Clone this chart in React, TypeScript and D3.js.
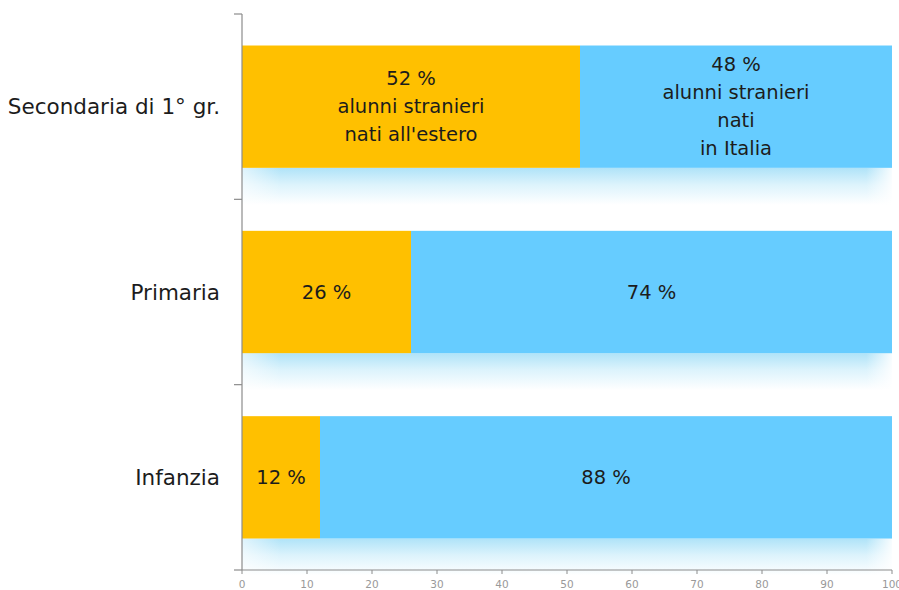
import * as React from "react";
import * as d3 from "d3";

const categories = ["Secondaria di 1° gr.", "Primaria", "Infanzia"];
const natiEstero = [52, 26, 12];
const natiItalia = [48, 74, 88];
const esteroLabels = [["52 %", "alunni stranieri", "nati all'estero"], ["26 %"], ["12 %"]];
const italiaLabels = [["48 %", "alunni stranieri", "nati", "in Italia"], ["74 %"], ["88 %"]];
const xTicks = [0, 10, 20, 30, 40, 50, 60, 70, 80, 90, 100];

const W = 899, H = 590;
const margin = { top: 14, right: 7, bottom: 20, left: 242 };
const FONT = "'Century Gothic', 'URW Gothic', 'DejaVu Sans', sans-serif";

export default function App() {
  const x = d3.scaleLinear().domain([0, 100]).range([margin.left, W - margin.right]);
  const y = d3.scaleBand<string>()
    .domain(categories)
    .range([margin.top, H - margin.bottom])
    .paddingInner(0.34)
    .paddingOuter(0.17);
  const step = y.step();
  const bw = y.bandwidth();
  const lineH = 28;
  const axisY = H - margin.bottom;
  const catTicks = [margin.top, ...categories.map((c, i) => margin.top + step * (i + 1))];

  return (
    <svg width={W} height={H} style={{ position: "absolute", left: 0, top: 0, background: "#fff" }}>
      <defs>
        <linearGradient id="shadowV" x1="0" y1="0" x2="0" y2="1">
          <stop offset="0%" stopColor="#afe3f8" />
          <stop offset="45%" stopColor="#dcf3fc" />
          <stop offset="100%" stopColor="#ffffff" />
        </linearGradient>
        <linearGradient id="shadowH" x1="0" y1="0" x2="1" y2="0">
          <stop offset="0%" stopColor="#fff" stopOpacity={0.6} />
          <stop offset="6%" stopColor="#fff" stopOpacity={0} />
          <stop offset="96%" stopColor="#fff" stopOpacity={0} />
          <stop offset="100%" stopColor="#fff" stopOpacity={0.9} />
        </linearGradient>
      </defs>

      {categories.map((c, i) => {
        const y0 = y(c)!;
        const xMid = x(natiEstero[i]);
        const xEnd = x(natiEstero[i] + natiItalia[i]);
        return (
          <g key={c}>
            <rect x={x(0)} y={y0 + bw} width={xEnd - x(0)} height={step * 0.2} fill="url(#shadowV)" />
            <rect x={x(0)} y={y0 + bw} width={xEnd - x(0)} height={step * 0.2} fill="url(#shadowH)" />
            <rect x={x(0)} y={y0} width={xMid - x(0)} height={bw} fill="#FFC000" />
            <rect x={xMid} y={y0} width={xEnd - xMid} height={bw} fill="#66CCFF" />
            <g fontFamily={FONT} fontSize={19.5} fill="#1c1c1c" textAnchor="middle">
              {esteroLabels[i].map((t, j) => (
                <text key={"e" + j} x={(x(0) + xMid) / 2}
                  y={y0 + bw / 2 + (j - (esteroLabels[i].length - 1) / 2) * lineH} dy="0.35em">{t}</text>
              ))}
              {italiaLabels[i].map((t, j) => (
                <text key={"i" + j} x={(xMid + xEnd) / 2}
                  y={y0 + bw / 2 + (j - (italiaLabels[i].length - 1) / 2) * lineH} dy="0.35em">{t}</text>
              ))}
            </g>
            <text x={margin.left - 22} y={y0 + bw / 2} dy="0.35em" textAnchor="end"
              fontFamily={FONT} fontSize={21.5} fill="#1c1c1c">{c}</text>
          </g>
        );
      })}

      {/* y axis */}
      <line x1={x(0)} x2={x(0)} y1={margin.top} y2={axisY} stroke="#8c8c8c" strokeWidth={1.2} />
      {catTicks.map((t, i) => (
        <line key={i} x1={x(0) - 8} x2={x(0)} y1={t} y2={t} stroke="#8c8c8c" strokeWidth={1.2} />
      ))}

      {/* x axis */}
      <line x1={x(0)} x2={x(100)} y1={axisY} y2={axisY} stroke="#8c8c8c" strokeWidth={1.2} />
      {xTicks.map((t) => (
        <g key={t}>
          <line x1={x(t)} x2={x(t)} y1={axisY} y2={axisY + 4} stroke="#8c8c8c" strokeWidth={1} />
          <text x={x(t)} y={axisY + 14} dy="0.35em" textAnchor="middle" fontFamily={FONT}
            fontSize={10.5} fill="#999">{t}</text>
        </g>
      ))}
    </svg>
  );
}
